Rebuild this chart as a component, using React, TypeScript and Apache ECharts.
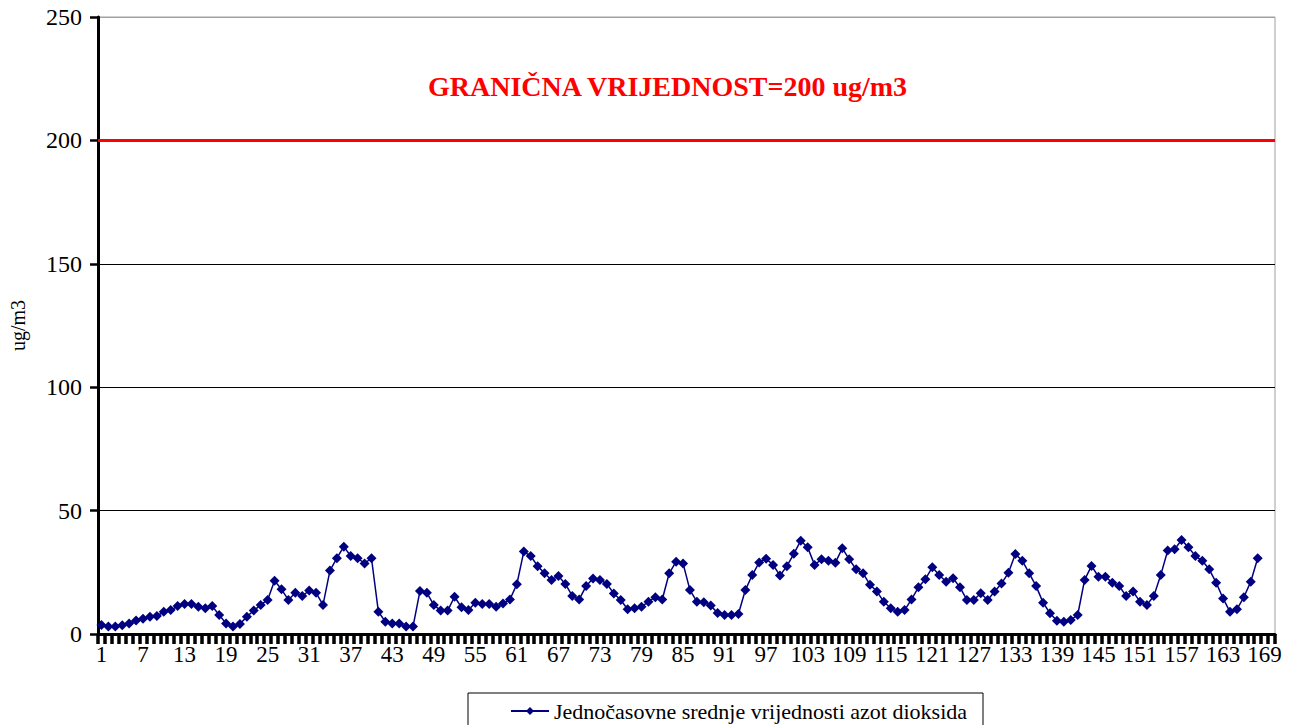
import React, { useEffect, useRef } from "react";
import * as echarts from "echarts";

const categories: string[] = Array.from({ length: 170 }, (_, i) => String(i + 1));

const no2Values: number[] = [
  3.6, 3.0, 3.0, 3.5, 4.3, 5.5, 6.2, 7.0, 7.3, 9.0,
  9.7, 11.3, 12.2, 12.2, 11.0, 10.4, 11.3, 7.7, 4.3, 3.0,
  4.1, 7.0, 9.5, 11.8, 13.8, 21.6, 18.1, 13.8, 16.7, 15.4,
  17.6, 16.7, 11.8, 25.7, 30.7, 35.4, 31.6, 30.7, 28.6, 30.7,
  9.0, 5.0, 4.3, 4.3, 3.0, 3.0, 17.4, 16.7, 11.8, 9.5,
  9.5, 15.1, 10.8, 9.7, 12.7, 12.2, 12.2, 11.0, 12.4, 14.0,
  20.2, 33.4, 31.6, 27.5, 24.6, 21.9, 23.5, 20.3, 15.4, 14.0,
  19.4, 22.5, 21.9, 20.3, 16.4, 13.8, 10.0, 10.4, 11.0, 13.1,
  14.9, 14.0, 24.6, 29.3, 28.6, 17.8, 13.1, 12.9, 11.5, 8.5,
  7.7, 7.7, 8.1, 17.8, 23.9, 29.0, 30.5, 28.0, 23.7, 27.5,
  32.5, 37.8, 35.1, 28.0, 30.3, 29.7, 28.9, 34.7, 30.3, 26.2,
  24.6, 20.0, 17.2, 13.1, 10.4, 9.0, 9.7, 14.0, 18.9, 22.2,
  27.0, 23.9, 21.2, 22.6, 18.9, 13.8, 13.8, 16.5, 13.8, 17.2,
  20.5, 24.8, 32.4, 29.7, 24.6, 19.4, 12.7, 8.4, 5.4, 5.0,
  5.7, 7.7, 21.9, 27.6, 23.2, 23.2, 20.8, 19.4, 15.4, 17.2,
  13.1, 11.8, 15.4, 23.9, 33.8, 34.3, 38.1, 35.1, 31.6, 29.7,
  26.2, 20.8, 14.4, 9.0, 10.0, 14.9, 21.2, 30.7,
];

const limitValue = 200;
const limitText = "GRANIČNA VRIJEDNOST=200 ug/m3";
const seriesName = "Jednočasovne srednje vrijednosti azot dioksida";
const yUnit = "ug/m3";

const SERIF = "'Liberation Serif', 'Times New Roman', serif";

export default function App() {
  const ref = useRef<HTMLDivElement>(null);

  useEffect(() => {
    if (!ref.current) return;
    const chart = echarts.init(ref.current, null, { renderer: "svg" });

    chart.setOption({
      animation: false,
      backgroundColor: "#ffffff",
      title: {
        text: limitText,
        left: 428,
        top: 72,
        padding: 0,
        textStyle: {
          color: "#ff0000",
          fontFamily: SERIF,
          fontWeight: "bold",
          fontSize: 28,
        },
      },
      grid: {
        left: 97,
        right: 14,
        top: 17,
        bottom: 91,
        show: true,
        borderColor: "#a0a0a0",
        borderWidth: 1,
        backgroundColor: "transparent",
      },
      legend: {
        left: 468,
        top: 693,
        orient: "horizontal",
        borderColor: "#000",
        borderWidth: 1,
        padding: [7, 16, 12, 42],
        itemWidth: 38,
        itemHeight: 10,
        textStyle: { fontFamily: SERIF, fontSize: 22, color: "#000" },
        data: [seriesName],
      },
      xAxis: {
        type: "category",
        data: categories,
        boundaryGap: true,
        axisLine: { show: true, lineStyle: { color: "#000", width: 3 } },
        axisTick: {
          show: true,
          interval: 0,
          length: 10,
          lineStyle: { color: "#000", width: 3.5 },
        },
        axisLabel: {
          interval: 5,
          margin: 9,
          fontFamily: SERIF,
          fontSize: 23,
          color: "#000",
        },
        splitLine: { show: false },
      },
      yAxis: {
        type: "value",
        min: 0,
        max: 250,
        interval: 50,
        name: yUnit,
        nameLocation: "middle",
        nameGap: 70,
        nameRotate: 90,
        nameTextStyle: { fontFamily: SERIF, fontSize: 20, color: "#000" },
        axisLine: { show: true, lineStyle: { color: "#000", width: 3 } },
        axisTick: { show: true, length: 8, lineStyle: { color: "#000", width: 2.5 } },
        axisLabel: {
          margin: 16,
          fontFamily: SERIF,
          fontSize: 24,
          color: "#000",
        },
        splitLine: {
          show: true,
          lineStyle: {
            color: ["#000", "#000", "#000", "#000", "#000", "#a0a0a0"],
            width: 1,
          },
        },
      },
      series: [
        {
          name: seriesName,
          type: "line",
          data: no2Values,
          symbol: "diamond",
          symbolSize: 10,
          showSymbol: true,
          showAllSymbol: true,
          itemStyle: { color: "#000080" },
          lineStyle: { color: "#000080", width: 1.5 },
          markLine: {
            silent: true,
            symbol: "none",
            label: { show: false },
            lineStyle: { color: "#ff0000", width: 3, type: "solid" },
            data: [{ yAxis: limitValue }],
          },
          z: 3,
        },
      ],
    });
    return () => chart.dispose();
  }, []);

  return (
    <div
      ref={ref}
      style={{ position: "fixed", left: 0, top: 0, width: 1289, height: 725 }}
    />
  );
}
